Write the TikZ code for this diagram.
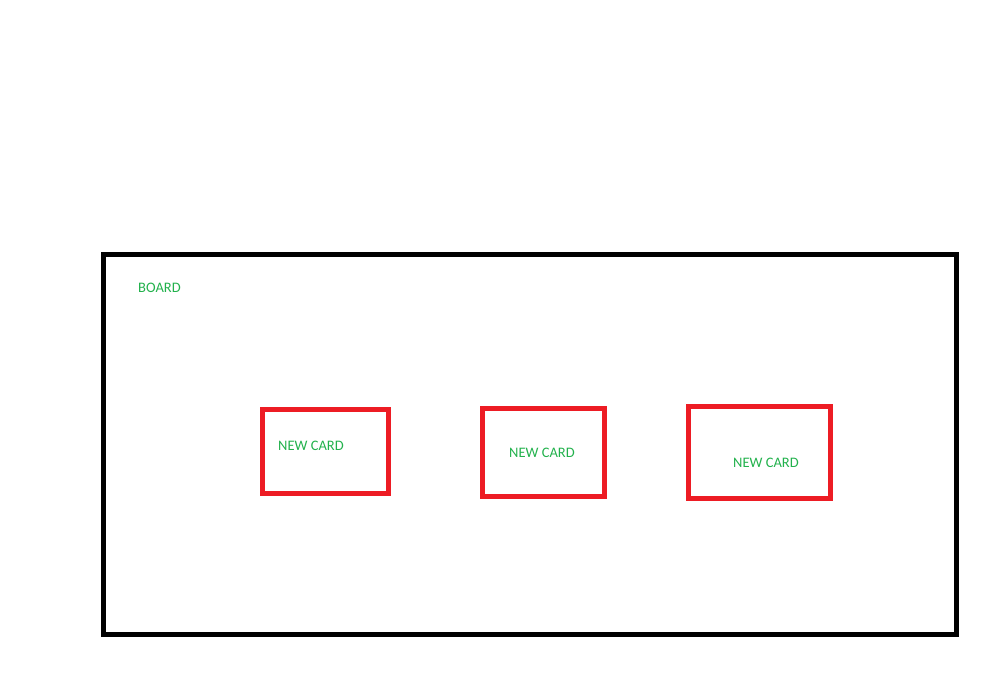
\documentclass[tikz,border=0pt]{standalone}
\usepackage{fontspec}
\setmainfont{Carlito}
\definecolor{cardred}{HTML}{ED1C24}
\definecolor{labgreen}{HTML}{22B14C}
\begin{document}
\begin{tikzpicture}[x=1pt,y=-1pt,
  board/.style={draw=black,line width=5pt},
  card/.style={draw=cardred,line width=5pt},
  lab/.style={text=labgreen,font=\fontsize{14.5}{16}\selectfont,anchor=base west,inner sep=0pt}]
\useasboundingbox (0,0) rectangle (998,672);
\draw[board] (103.5,254.5) rectangle (956.5,634.5);
\node[lab] (boardlab) at (138,292) {BOARD};
\draw[card] (262.5,409.5) rectangle (388.5,493.5);
\node[lab] (c1) at (278,450) {NEW CARD};
\draw[card] (482.5,408.5) rectangle (604.5,496.5);
\node[lab] (c2) at (509,457) {NEW CARD};
\draw[card] (688.5,406.5) rectangle (830.5,498.5);
\node[lab] (c3) at (733,467) {NEW CARD};
\end{tikzpicture}
\end{document}
